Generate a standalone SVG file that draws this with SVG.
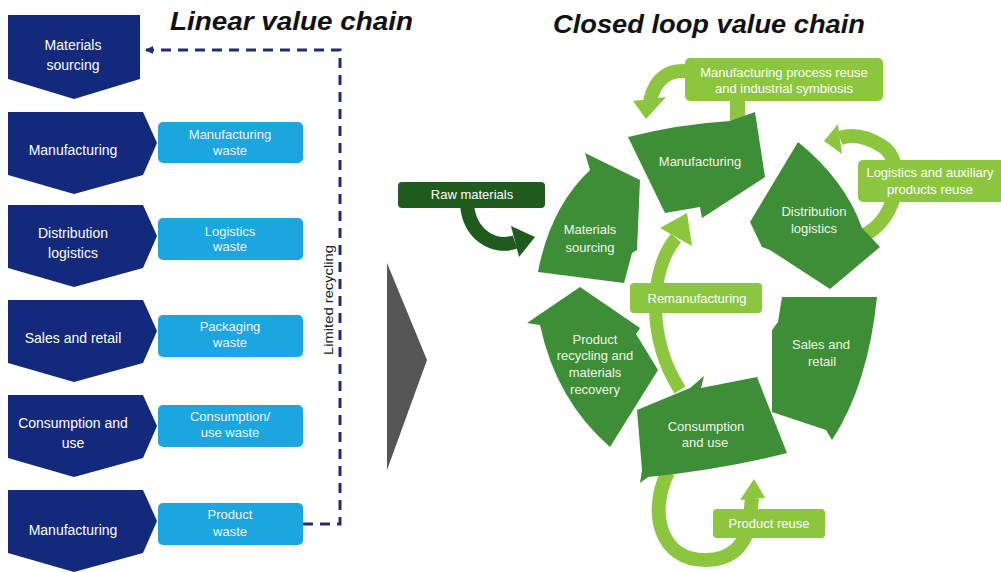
<svg xmlns="http://www.w3.org/2000/svg" xmlns:xlink="http://www.w3.org/1999/xlink" width="1001" height="572" viewBox="0 0 1001 572">
  <style>
    text { font-family: "Liberation Sans", Arial, sans-serif; text-anchor: middle; fill: #ffffff; }
    .title { font-size: 26px; font-weight: bold; font-style: italic; fill: #111111; text-anchor: start; }
    .stage { fill: #13297b; }
    .waste { fill: #1ba6df; }
    .seg { fill: #3e8e37; }
    .lime { fill: #8cc63f; }
    .band { fill: none; stroke: #8cc63f; stroke-width: 14; }
    .t14 { font-size: 14px; }
    .t13 { font-size: 13px; fill: #f4f4f4; }
    .g13 { font-size: 13px; fill: #eef6e8; }
  </style>
  <defs>
    <path id="stage-arrow" d="M0,0 H135 L149,31 L135,63 L66,82 L0,63 Z"/>
    <path id="stage-first" d="M0,0 H132 V64 L66,84 L0,64 Z"/>
    <marker id="navy-head" markerWidth="8" markerHeight="8" refX="7" refY="4" orient="auto" markerUnits="userSpaceOnUse">
      <path d="M0,0 L8,4 L0,8 Z" fill="#1d2f6f"/>
    </marker>
  </defs>

  <rect width="1001" height="572" fill="#ffffff"/>

  <!-- headings -->
  <text class="title" x="170" y="30" textLength="243" lengthAdjust="spacingAndGlyphs">Linear value chain</text>
  <text class="title" x="553" y="33" textLength="312" lengthAdjust="spacingAndGlyphs">Closed loop value chain</text>

  <!-- connectors -->
  <g id="connectors">
    <!-- limited recycling return path -->
    <path d="M303,524 H340 V50 H146" fill="none" stroke="#1d2f6f" stroke-width="3" stroke-dasharray="10,7" marker-end="url(#navy-head)"/>
    <text x="0" y="0" transform="translate(333,300) rotate(-90)" style="font-size:13px; fill:#222222" textLength="110" lengthAdjust="spacingAndGlyphs">Limited recycling</text>

    <!-- manufacturing process reuse loop -->
    <rect x="730" y="98" width="15" height="28" class="lime"/>
    <path class="band" d="M692,72 Q658,66 650,101"/>
    <polygon class="lime" points="633,101 666,97 646,119"/>

    <!-- logistics reuse loop -->
    <path class="band" d="M862,236 C900,220 906,160 882,146 C866,136 852,134 840,138"/>
    <polygon class="lime" points="838,124 842,154 824,141"/>

    <!-- remanufacturing path -->
    <path class="band" style="stroke-width:13" d="M680,390 C648,340 648,272 676,238"/>
    <polygon class="lime" points="660,228 692,246 687,213"/>

    <!-- product reuse loop -->
    <path class="band" d="M668,472 C648,512 660,560 705,560 C732,560 747,545 750,518 L752,498"/>
    <polygon class="lime" points="740,500 765,498 754,479"/>

    <!-- raw materials feed -->
    <path d="M467,205 C470,236 495,249 515,242" fill="none" stroke="#1f5b1f" stroke-width="14"/>
    <polygon points="511,226 519,257 535,237" fill="#1f5b1f"/>
  </g>

  <!-- linear stages -->
  <g id="lin-materials">
    <use xlink:href="#stage-first" class="stage" transform="translate(8,15)"/>
    <text class="t14" x="73" y="50">Materials</text>
    <text class="t14" x="73" y="70">sourcing</text>
  </g>
  <g id="lin-manufacturing">
    <use xlink:href="#stage-arrow" class="stage" transform="translate(8,112)"/>
    <text class="t14" x="73" y="155">Manufacturing</text>
  </g>
  <g id="lin-distribution">
    <use xlink:href="#stage-arrow" class="stage" transform="translate(8,205)"/>
    <text class="t14" x="73" y="238">Distribution</text>
    <text class="t14" x="73" y="258">logistics</text>
  </g>
  <g id="lin-sales">
    <use xlink:href="#stage-arrow" class="stage" transform="translate(8,300)"/>
    <text class="t14" x="73" y="343">Sales and retail</text>
  </g>
  <g id="lin-consumption">
    <use xlink:href="#stage-arrow" class="stage" transform="translate(8,395)"/>
    <text class="t14" x="73" y="428">Consumption and</text>
    <text class="t14" x="73" y="448">use</text>
  </g>
  <g id="lin-manufacturing-2">
    <use xlink:href="#stage-arrow" class="stage" transform="translate(8,490)"/>
    <text class="t14" x="73" y="535">Manufacturing</text>
  </g>

  <!-- waste boxes -->
  <g id="waste-manufacturing">
    <rect class="waste" x="158" y="122" width="145" height="41" rx="5"/>
    <text class="t13" x="230" y="139">Manufacturing</text>
    <text class="t13" x="230" y="155">waste</text>
  </g>
  <g id="waste-logistics">
    <rect class="waste" x="158" y="218" width="145" height="42" rx="5"/>
    <text class="t13" x="230" y="236">Logistics</text>
    <text class="t13" x="230" y="251">waste</text>
  </g>
  <g id="waste-packaging">
    <rect class="waste" x="158" y="315" width="145" height="42" rx="5"/>
    <text class="t13" x="230" y="331">Packaging</text>
    <text class="t13" x="230" y="347">waste</text>
  </g>
  <g id="waste-consumption">
    <rect class="waste" x="158" y="405" width="145" height="42" rx="5"/>
    <text class="t13" x="230" y="421">Consumption/</text>
    <text class="t13" x="230" y="437">use waste</text>
  </g>
  <g id="waste-product">
    <rect class="waste" x="158" y="503" width="145" height="42" rx="5"/>
    <text class="t13" x="230" y="519">Product</text>
    <text class="t13" x="230" y="536">waste</text>
  </g>

  <!-- transition marker -->
  <g id="transition">
    <polygon points="387,263 427,360 387,470" fill="#555555"/>
  </g>

  <!-- closed loop stages -->
  <g id="loop-materials">
    <path class="seg" d="M585,153 L640,180 L637,250 L632,253 L624,283 L538,272 Q550,208 590,170 Z"/>
    <text class="g13" x="590" y="234">Materials</text>
    <text class="g13" x="590" y="252">sourcing</text>
  </g>
  <g id="loop-manufacturing">
    <path class="seg" d="M628,137 Q680,124 730,121 L755,112 L765,177 L702,218 L700,207 L665,213 Z"/>
    <text class="g13" x="700" y="166">Manufacturing</text>
  </g>
  <g id="loop-distribution">
    <path class="seg" d="M798,142 Q845,180 862,228 L880,247 L830,289 L770,250 L762,247 L750,222 Z"/>
    <text class="g13" x="814" y="216">Distribution</text>
    <text class="g13" x="814" y="233">logistics</text>
  </g>
  <g id="loop-sales">
    <path class="seg" d="M782,297 L877,297 Q868,385 832,440 L826,430 L772,412 L772,330 L778,322 Z"/>
    <text class="g13" x="821" y="349">Sales and</text>
    <text class="g13" x="822" y="366">retail</text>
  </g>
  <g id="loop-consumption">
    <path class="seg" d="M637,410 L690,388 L704,376 L701,388 L757,377 L787,453 Q720,470 648,477 L640,483 L642,470 Z"/>
    <text class="g13" x="706" y="431">Consumption</text>
    <text class="g13" x="705" y="447">and use</text>
  </g>
  <g id="loop-recycling">
    <path class="seg" d="M580,287 L640,328 L636,334 L658,370 L610,447 Q556,400 540,325 L527,323 Z"/>
    <text class="g13" x="595" y="344">Product</text>
    <text class="g13" x="595" y="360">recycling and</text>
    <text class="g13" x="595" y="377">materials</text>
    <text class="g13" x="595" y="394">recovery</text>
  </g>

  <!-- reuse boxes -->
  <g id="box-process-reuse">
    <rect class="lime" x="685" y="58" width="198" height="43" rx="5"/>
    <text class="t13" style="fill:#ffffff" x="784" y="77">Manufacturing process reuse</text>
    <text class="t13" style="fill:#ffffff" x="784" y="93">and industrial symbiosis</text>
  </g>
  <g id="box-logistics-reuse">
    <rect class="lime" x="858" y="160" width="148" height="42" rx="5"/>
    <text class="t13" style="fill:#ffffff" x="930" y="177">Logistics and auxiliary</text>
    <text class="t13" style="fill:#ffffff" x="930" y="194">products reuse</text>
  </g>
  <g id="box-remanufacturing">
    <rect class="lime" x="630" y="283" width="132" height="30" rx="4"/>
    <text class="t13" style="fill:#ffffff" x="697" y="303">Remanufacturing</text>
  </g>
  <g id="box-product-reuse">
    <rect class="lime" x="713" y="509" width="112" height="29" rx="4"/>
    <text class="t13" style="fill:#ffffff" x="769" y="528">Product reuse</text>
  </g>
  <g id="box-raw-materials">
    <rect x="398" y="182" width="147" height="26" rx="4" fill="#1f5b1f"/>
    <text class="t13" style="fill:#ffffff" x="472" y="199">Raw materials</text>
  </g>
</svg>
